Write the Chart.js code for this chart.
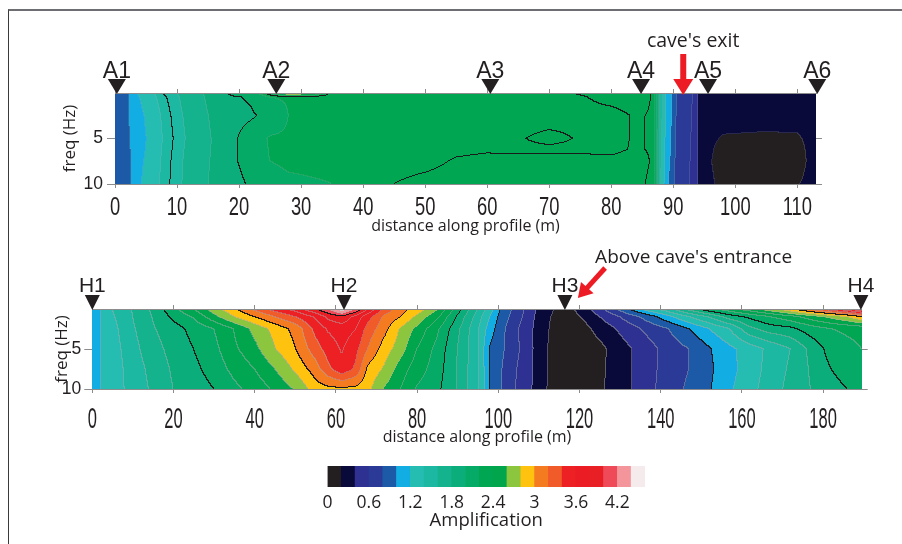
<!DOCTYPE html>
<html>
<head>
<meta charset="utf-8">
<script src="https://cdn.jsdelivr.net/npm/chart.js@4.4.1/dist/chart.umd.min.js"></script>
<style>
  html, body { margin: 0; padding: 0; background: #fff; }
  #page { position: relative; width: 902px; height: 544px; overflow: hidden; }
  #frame { position: absolute; left: 8px; top: 9px; width: 900px; height: 540px;
           border-top: 2px solid #6d6e71; border-left: 1px solid #3a3a3a; }
  canvas { position: absolute; left: 0; }
</style>
</head>
<body>
<div id="page">
  <div id="frame"></div>
  <canvas id="topChart" width="902" height="250" style="top:0"></canvas>
  <canvas id="botChart" width="902" height="215" style="top:240px"></canvas>
  <canvas id="barChart" width="902" height="89" style="top:455px"></canvas>
</div>
<script>
// --- colour scale (amplification classes, 0.2 wide) ---
const ampEdges = [0, 0.2, 0.4, 0.6, 0.8, 1.0, 1.2, 1.4, 1.6, 1.8, 2.0, 2.2, 2.4, 2.6, 2.8, 3.0, 3.2, 3.4, 3.6, 3.8, 4.0, 4.2, 4.4, 4.6];
const ampColors = ['#231f20', '#09093a', '#2e3192', '#2b3a96', '#1c5aa8', '#12ade2', '#25bdb2', '#1cb8a2',
                   '#14b38e', '#0bae7a', '#05aa66', '#00a651', '#00a54c', '#8cc63f', '#fec20f', '#f47b20',
                   '#f15a29', '#ed2024', '#ec1c24', '#e91f26', '#ee4a57', '#f4959c', '#f5ebec'];
const scaleTicks = [0, 0.6, 1.2, 1.8, 2.4, 3, 3.6, 4.2];

// --- profile A (top panel): amplification per distance column, one array per frequency row ---
const profA_dist = [0, 2, 4, 6, 8, 10, 13, 16, 19, 22, 25, 28, 31, 35, 40, 45, 50, 55, 60, 65, 70, 75, 80, 84, 87, 88, 89, 89.8, 90.7, 93.8, 94.2, 96, 98, 105, 110, 112, 113];
const profA_freq = [0, 0.5, 2.5, 5, 6.2, 7.5, 10];
const profA_f0   = [0.85,0.97,1.25,1.38,1.52,1.6, 1.72,1.9,2.05,2.12,2.4,2.85,2.75, 2.25,2.25,2.25,2.25,2.25,2.25,2.25,2.27,2.31,2.34, 2.34,2.29,1.5,1.15,1.0,0.8, 0.55,0.3,0.3,0.3,0.3,0.3,0.3,0.3];
const profA_f05  = [0.85,0.97,1.2,1.35,1.48,1.58, 1.72,1.88,1.98,2.02,2.2,2.22,2.23, 2.24,2.25,2.25,2.25,2.25,2.25,2.25,2.27,2.29,2.33, 2.34,2.29,1.5,1.12,1.0,0.78, 0.55,0.3,0.3,0.3,0.3,0.3,0.3,0.3];
const profA_f25  = [0.85,0.98,1.14,1.3,1.44,1.55, 1.7,1.84,1.95,1.98,2.04,2.2,2.22, 2.23,2.24,2.25,2.25,2.25,2.25,2.25,2.25,2.27,2.27, 2.31,2.29,1.5,1.12,0.99,0.75, 0.55,0.3,0.3,0.3,0.3,0.3,0.3,0.3];
const profA_f5   = [0.85,0.97,1.1,1.28,1.42,1.53, 1.68,1.82,1.97,2.08,2.22,2.23,2.23, 2.24,2.25,2.25,2.25,2.25,2.26,2.29,2.33,2.29,2.27, 2.31,2.29,1.48,1.1,0.98,0.72, 0.55,0.3,0.25,0.18,0.16,0.17,0.25,0.3];
const profA_f62  = [0.85,0.96,1.12,1.29,1.43,1.54, 1.69,1.82,1.97,2.08,2.21,2.23,2.23, 2.23,2.24,2.25,2.26,2.28,2.29,2.28,2.28,2.28,2.28, 2.31,2.29,1.48,1.1,0.97,0.71, 0.55,0.3,0.24,0.1,0.09,0.11,0.25,0.3];
const profA_f75  = [0.85,0.95,1.15,1.3,1.44,1.55, 1.7,1.83,1.97,2.08,2.2,2.22,2.22, 2.22,2.24,2.26,2.27,2.31,2.32,2.33,2.33,2.33,2.32, 2.33,2.29,1.45,1.08,0.95,0.7, 0.55,0.3,0.22,0.06,0.05,0.08,0.24,0.3];
const profA_f10  = [0.85,0.93,1.18,1.32,1.45,1.56, 1.7,1.84,1.93,2.03,2.15,2.18,2.19, 2.2,2.24,2.3,2.33,2.34,2.34,2.34,2.34,2.34,2.33, 2.32,2.28,1.4,1.05,0.9,0.68, 0.55,0.3,0.25,0.12,0.1,0.18,0.27,0.3];
const stationsA = [0.3, 26, 60.5, 84.8, 95.6, 113.2];
const stationsA_names = ['A1', 'A2', 'A3', 'A4', 'A5', 'A6'];

// --- profile H (bottom panel) ---
const profH_dist = [0, 2.5, 5, 10, 15, 20, 25, 30, 35, 40, 45, 50, 55, 58, 61.5, 65, 68, 72, 76, 80, 85, 90, 95, 98, 101, 105, 109, 113, 117, 121, 125, 129, 133, 137, 142, 147, 152, 157, 162, 167, 172, 177, 182, 186, 189.5];
const profH_freq = [0, 1, 2.5, 5, 7.5, 10];
const profH_f0  = [1.05,1.22,1.4,1.61,1.84,2.15,2.4,2.72,2.97,3.25, 3.5,3.7,4.0,4.2,4.55,4.2,3.8,3.35,3.08,2.93, 2.63,2.1,1.6,1.3,0.95,0.7,0.42,0.22,0.12,0.3, 0.53,0.8,1.07,1.33,1.55,1.9,2.18,2.35,2.55,2.75, 3.0,3.3,3.6,3.85,4.1];
const profH_f1  = [1.05,1.22,1.37,1.6,1.81,2.04,2.22,2.53,2.8,3.0, 3.2,3.4,3.63,3.85,3.95,3.73,3.47,3.16,3.0,2.75, 2.44,1.97,1.5,1.2,0.9,0.67,0.4,0.2,0.1,0.22, 0.4,0.56,0.73,0.9,1.15,1.4,1.62,1.9,2.05,2.2, 2.33,2.5,2.66,2.8,3.0];
const profH_f25 = [1.05,1.22,1.33,1.57,1.78,1.92,2.06,2.2,2.41,2.66, 2.87,3.06,3.46,3.62,3.7,3.6,3.32,3.07,2.77,2.55, 2.24,1.85,1.43,1.1,0.85,0.6,0.38,0.18,0.1,0.13, 0.27,0.4,0.53,0.66,0.8,1.0,1.2,1.4,1.75,1.9, 1.95,2.1,2.2,2.23,2.25];
const profH_f5  = [1.05,1.22,1.3,1.53,1.72,1.87,2.0,2.14,2.36,2.54, 2.79,2.99,3.31,3.48,3.62,3.46,3.19,2.9,2.69,2.4, 2.14,1.8,1.43,0.98,0.83,0.62,0.38,0.16,0.08,0.1, 0.14,0.28,0.4,0.52,0.69,0.8,0.98,1.15,1.3,1.45, 1.6,1.85,2.08,2.15,2.2];
const profH_f75 = [1.07,1.23,1.28,1.5,1.66,1.83,1.95,2.08,2.26,2.4, 2.6,2.84,3.1,3.34,3.55,3.36,2.95,2.77,2.5,2.3, 2.1,1.79,1.43,1.0,0.8,0.58,0.38,0.16,0.08,0.1, 0.15,0.28,0.4,0.52,0.7,0.8,0.96,1.13,1.3,1.47, 1.63,1.82,2.0,2.1,2.15];
const profH_f10 = [1.07,1.23,1.27,1.49,1.63,1.8,1.9,2.0,2.15,2.28, 2.43,2.62,2.9,2.95,2.97,2.95,2.85,2.58,2.4,2.18, 2.05,1.79,1.43,1.0,0.8,0.56,0.37,0.15,0.08,0.1, 0.16,0.29,0.4,0.53,0.72,0.83,0.98,1.17,1.33,1.5, 1.66,1.8,1.92,2.0,2.1];
const stationsH = [0, 62, 116.4, 189.3];
const stationsH_names = ['H1', 'H2', 'H3', 'H4'];

const ink = '#231f20';
const axisGray = '#8c8c8c';

// --- helpers ---
function hexRgb(h) { return [parseInt(h.slice(1, 3), 16), parseInt(h.slice(3, 5), 16), parseInt(h.slice(5, 7), 16)]; }
const ampRgb = ampColors.map(hexRgb);

function classOf(v) {
    let k = 0;
    while (k < ampColors.length - 1 && v >= ampEdges[k + 1]) k++;
    return k;
}

function locate(arr, v) {
    let i = 0;
    while (i < arr.length - 2 && v > arr[i + 1]) i++;
    const t = (v - arr[i]) / (arr[i + 1] - arr[i]);
    return [i, Math.min(1, Math.max(0, t))];
}

// value between grid nodes (used only for painting the contour fill)
function sample(xs, fs, grid, d, f) {
    const [i, tx] = locate(xs, d);
    const [j, ty] = locate(fs, f);
    const a = grid[j][i], b = grid[j][i + 1], c = grid[j + 1][i], e = grid[j + 1][i + 1];
    return (a * (1 - tx) + b * tx) * (1 - ty) + (c * (1 - tx) + e * tx) * ty;
}

// filled contour map, painted through the x / y scales
const contourFill = {
    id: 'contourFill',
    beforeDraw(chart, args, o) {
        if (!o.grid) return;
        const { ctx, chartArea: a } = chart;
        const sx = chart.scales.x, sy = chart.scales.y;
        const L = Math.round(a.left), T = Math.round(a.top);
        const W = Math.round(a.right) - L, H = Math.round(a.bottom) - T;
        const dist = new Float32Array(W);
        for (let i = 0; i < W; i++) dist[i] = sx.getValueForPixel(L + i + 0.5);
        const val = new Float32Array(W * H), cls = new Int16Array(W * H);
        for (let j = 0; j < H; j++) {
            const f = sy.getValueForPixel(T + j + 0.5);
            for (let i = 0; i < W; i++) {
                const v = sample(o.dist, o.freq, o.grid, dist[i], f);
                val[j * W + i] = v;
                cls[j * W + i] = classOf(v);
            }
        }
        const img = ctx.createImageData(W, H), px = img.data;
        for (let j = 0; j < H; j++) {
            for (let i = 0; i < W; i++) {
                const k = j * W + i, v = val[k];
                let edge = 0;
                const nbs = [];
                if (i + 1 < W) nbs.push(k + 1);
                if (j + 1 < H) nbs.push(k + W);
                for (const n of nbs) {
                    const w = val[n];
                    for (const ln of o.lines) {
                        if (dist[i] < ln.from || dist[i] > ln.to) continue;
                        if ((v - ln.v) * (w - ln.v) < 0 || (v === ln.v && w !== v)) edge = 2;
                    }
                    if (edge < 2 && cls[n] !== cls[k]) edge = 1;
                }
                let rgb = ampRgb[cls[k]];
                if (edge === 2) rgb = [26, 26, 26];
                else if (edge === 1) {
                    const g = o.grayAlpha;
                    rgb = rgb.map(c => Math.round(c * (1 - g) + 170 * g));
                }
                px[k * 4] = rgb[0]; px[k * 4 + 1] = rgb[1]; px[k * 4 + 2] = rgb[2]; px[k * 4 + 3] = 255;
            }
        }
        ctx.putImageData(img, L, T);
    }
};

function drawArrow(ctx, x0, y0, x1, y1, shaft, headW, headL) {
    const ang = Math.atan2(y1 - y0, x1 - x0), len = Math.hypot(x1 - x0, y1 - y0);
    ctx.save();
    ctx.translate(x0, y0);
    ctx.rotate(ang);
    ctx.fillStyle = '#ed1c24';
    ctx.fillRect(0, -shaft / 2, len - headL + 1, shaft);
    ctx.beginPath();
    ctx.moveTo(len, 0);
    ctx.lineTo(len - headL, -headW / 2);
    ctx.lineTo(len - headL, headW / 2);
    ctx.closePath();
    ctx.fill();
    ctx.restore();
}

// station triangles, narrow distance labels, arrows and notes
const decor = {
    id: 'decor',
    afterDraw(chart, args, o) {
        const { ctx, chartArea: a } = chart;
        const x = chart.scales.x;
        ctx.save();
        // distance tick labels (condensed face)
        ctx.fillStyle = ink;
        ctx.font = o.tickFont;
        ctx.textAlign = 'center';
        ctx.textBaseline = 'alphabetic';
        x.ticks.forEach((t, i) => {
            const p = x.getPixelForTick(i);
            ctx.save();
            ctx.translate(p, a.bottom + o.tickDy);
            ctx.scale(o.tickSX, 1);
            ctx.fillText(String(t.value), 0, 0);
            ctx.restore();
        });
        // stations
        o.stations.forEach((d, i) => {
            const p = x.getPixelForValue(d);
            ctx.fillStyle = ink;
            ctx.beginPath();
            ctx.moveTo(p - o.triW / 2, a.top - o.triH);
            ctx.lineTo(p + o.triW / 2, a.top - o.triH);
            ctx.lineTo(p, a.top + 1);
            ctx.closePath();
            ctx.fill();
            ctx.font = o.nameFont;
            ctx.fillText(o.names[i], p, a.top - o.triH - o.nameGap);
        });
        // arrows
        o.arrows.forEach(r => {
            drawArrow(ctx, x.getPixelForValue(r.x0), a.top - r.dy0, x.getPixelForValue(r.x1), a.top - r.dy1,
                      r.shaft, r.headW, r.headL);
        });
        // notes
        o.notes.forEach(n => {
            ctx.fillStyle = ink;
            ctx.font = n.font;
            ctx.textAlign = 'center';
            ctx.fillText(n.text, x.getPixelForValue(n.x), a.top - n.dy);
        });
        ctx.restore();
    }
};

function buildProfile(canvasId, p) {
    const hideZero = c => (c.tick && c.tick.value === 0 ? 'rgba(0,0,0,0)' : axisGray);
    return new Chart(document.getElementById(canvasId), {
        type: 'scatter',
        data: { datasets: [] },
        plugins: [contourFill, decor],
        options: {
            responsive: false,
            animation: false,
            devicePixelRatio: 1,
            layout: { padding: p.pad },
            plugins: {
                legend: { display: false },
                tooltip: { enabled: false },
                contourFill: { dist: p.dist, freq: p.freq, grid: p.grid, lines: p.lines, grayAlpha: p.grayAlpha },
                decor: p.decor
            },
            scales: {
                x: {
                    type: 'linear', position: 'bottom', min: 0, max: p.maxDist,
                    ticks: { display: false, stepSize: p.step, includeBounds: false },
                    grid: { drawOnChartArea: false, tickLength: 4, color: axisGray },
                    border: { color: axisGray },
                    title: { display: true, text: 'distance along profile (m)', color: ink,
                             font: { family: 'Open Sans', size: 16 }, padding: { top: 0, bottom: p.xTitlePad } },
                    afterFit: s => { s.height = p.xH; }
                },
                x2: {
                    axis: 'x', type: 'linear', position: 'top', min: 0, max: p.maxDist,
                    ticks: { display: false, stepSize: p.step, includeBounds: false },
                    grid: { drawOnChartArea: false, tickLength: 4, color: axisGray },
                    border: { color: axisGray },
                    afterFit: s => { s.height = 5; }
                },
                y: {
                    type: 'linear', position: 'left', reverse: true, min: 0, max: 10,
                    ticks: { stepSize: 5, padding: p.yTickPad, color: ink,
                             font: { family: 'Liberation Sans', size: 17.5 },
                             callback: v => (v === 0 ? '' : v) },
                    grid: { drawOnChartArea: false, tickLength: 8, color: hideZero },
                    border: { display: false },
                    title: { display: true, text: 'freq (Hz)', color: ink,
                             font: { family: 'Open Sans', size: 17 }, padding: { top: p.yTitlePad, bottom: 0 } },
                    afterFit: s => { s.width = p.yW; }
                },
                y2: {
                    axis: 'y', type: 'linear', position: 'right', reverse: true, min: 0, max: 10,
                    ticks: { display: false, stepSize: 5 },
                    grid: { drawOnChartArea: false, tickLength: 6, color: hideZero },
                    border: { display: false },
                    afterFit: s => { s.width = 6; }
                }
            }
        }
    });
}

// top panel: profile A
buildProfile('topChart', {
    dist: profA_dist, freq: profA_freq,
    grid: [profA_f0, profA_f05, profA_f25, profA_f5, profA_f62, profA_f75, profA_f10],
    lines: [{ v: 1.5, from: 0, to: 50 }, { v: 2.0, from: 0, to: 50 }, { v: 2.3, from: 0, to: 200 }],
    grayAlpha: 0.2,
    maxDist: 113, step: 10,
    pad: { left: 55, right: 80, top: 88, bottom: 10 },
    xH: 56, yW: 60, xTitlePad: 4.4, yTitlePad: 5, yTickPad: 4,
    decor: {
        tickFont: '25.5px "Liberation Sans Narrow", "Liberation Sans"', tickSX: 0.72, tickDy: 31,
        stations: stationsA, names: stationsA_names,
        triW: 18, triH: 14, nameGap: 1, nameFont: '23px "Liberation Sans Narrow", "Liberation Sans"',
        arrows: [{ x0: 91.6, dy0: 39, x1: 91.6, dy1: -2, shaft: 6, headW: 20, headL: 16 }],
        notes: [{ text: "cave's exit", x: 93.2, dy: 46, font: '19.5px "Open Sans"' }]
    }
});

// bottom panel: profile H
buildProfile('botChart', {
    dist: profH_dist, freq: profH_freq,
    grid: [profH_f0, profH_f1, profH_f25, profH_f5, profH_f75, profH_f10],
    lines: [{ v: 1, from: 0, to: 200 }, { v: 2, from: 0, to: 200 }, { v: 3, from: 0, to: 200 }, { v: 4, from: 0, to: 200 }],
    grayAlpha: 0.45,
    maxDist: 189.5, step: 20,
    pad: { left: 52.3, right: 34.3, top: 64, bottom: 6 },
    xH: 60, yW: 40, xTitlePad: 2.4, yTitlePad: 0, yTickPad: 3,
    decor: {
        tickFont: '30px "Liberation Sans Narrow", "Liberation Sans"', tickSX: 0.55, tickDy: 39,
        stations: stationsH, names: stationsH_names,
        triW: 15, triH: 14, nameGap: 3, nameFont: '21px "Liberation Sans Narrow", "Liberation Sans"',
        arrows: [{ x0: 126.3, dy0: 41, x1: 119.6, dy1: 11, shaft: 5, headW: 17, headL: 14 }],
        notes: [{ text: "Above cave's entrance", x: 148.1, dy: 46, font: '19px "Open Sans"' }]
    }
});

// colour bar
new Chart(document.getElementById('barChart'), {
    type: 'bar',
    data: {
        labels: ['amp'],
        datasets: [{
            data: ampColors.map((c, i) => ({ y: 'amp', x: [ampEdges[i], ampEdges[i + 1]] })),
            backgroundColor: ampColors,
            borderWidth: 0,
            barPercentage: 1,
            categoryPercentage: 1
        }]
    },
    options: {
        indexAxis: 'y',
        responsive: false,
        animation: false,
        devicePixelRatio: 1,
        layout: { padding: { left: 327.5, right: 257, top: 11, bottom: 7 } },
        plugins: { legend: { display: false }, tooltip: { enabled: false } },
        scales: {
            x: {
                type: 'linear', min: 0, max: 4.6,
                afterBuildTicks: s => { s.ticks = scaleTicks.map(v => ({ value: v })); },
                ticks: { autoSkip: false, maxRotation: 0, padding: 6, color: ink,
                         font: { family: 'Open Sans', size: 17.5 }, callback: v => String(v) },
                grid: { display: false, drawTicks: false },
                border: { display: false },
                title: { display: true, text: 'Amplification', color: ink,
                         font: { family: 'Open Sans', size: 18.5 }, padding: { top: 0, bottom: 5.4 } },
                afterFit: s => { s.height = 50; }
            },
            y: { display: false }
        }
    }
});
</script>
</body>
</html>
